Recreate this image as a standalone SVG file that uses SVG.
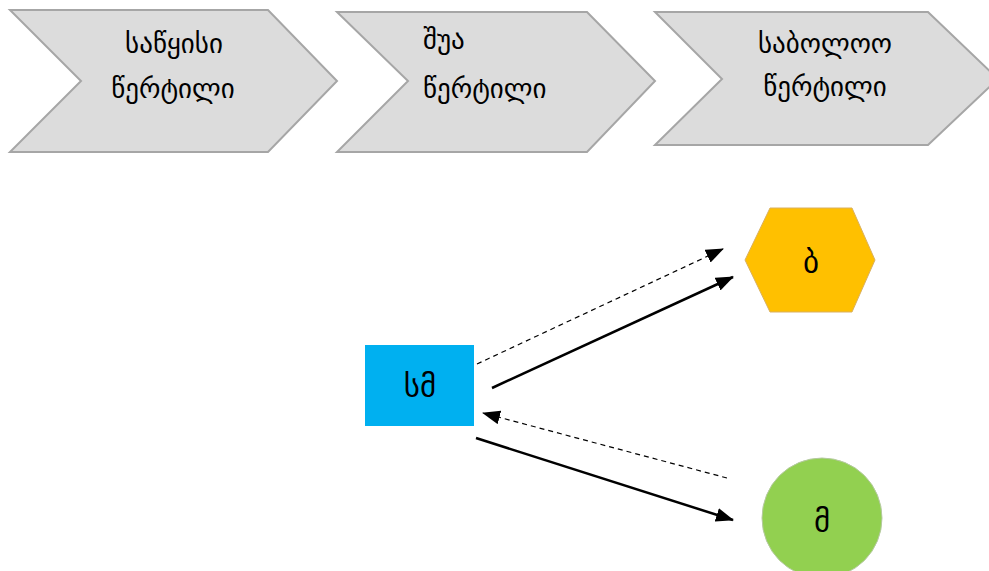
<svg xmlns="http://www.w3.org/2000/svg" width="989" height="571" viewBox="0 0 989 571">
<defs>
<style>
.chev{fill:#DCDCDC;stroke:#A6A6A6;stroke-width:2}
.t{font-family:"DejaVu Sans",sans-serif;font-size:27px;fill:#000}
.n{font-family:"DejaVu Sans",sans-serif;font-size:31px;fill:#000;text-anchor:middle;dominant-baseline:central}
.solid{stroke:#000;stroke-width:2.5;fill:none}
.dash{stroke:#000;stroke-width:1.2;stroke-dasharray:5 4;fill:none}
</style>
<marker id="ah" markerUnits="userSpaceOnUse" markerWidth="18" markerHeight="14" viewBox="0 0 18 14" refX="17" refY="7" orient="auto">
<path d="M0,0 L18,7 L0,14 Z" fill="#000"/>
</marker>
</defs>
<g id="chevron1">
<polygon class="chev" points="10,10 268,10 337,81 268,152 10,152 81,81"/>
<text class="t" x="174" y="53" text-anchor="middle">საწყისი</text>
<text class="t" x="173" y="98" text-anchor="middle">წერტილი</text>
</g>
<g id="chevron2">
<polygon class="chev" points="337,12 587,12 655,81 587,152 337,152 408,81"/>
<text class="t" x="423" y="49">შუა</text>
<text class="t" x="423" y="98">წერტილი</text>
</g>
<g id="chevron3">
<polygon class="chev" points="655,12 928,12 998,79 928,145 655,145 722,79"/>
<text class="t" x="825" y="53" text-anchor="middle">საბოლოო</text>
<text class="t" x="825" y="96" text-anchor="middle">წერტილი</text>
</g>
<g id="node-sm">
<rect x="365" y="345" width="109" height="81" fill="#00B0F0"/>
<text class="n" x="420" y="386">სმ</text>
</g>
<g id="node-b">
<polygon points="745,260 770,208 852,208 875,260 852,312 770,312" fill="#FFC000" stroke="#D9B060" stroke-width="1"/>
<text class="n" x="811" y="262">ბ</text>
</g>
<g id="node-m">
<circle cx="822" cy="518" r="60" fill="#92D050" stroke="#B5C9A0" stroke-width="1"/>
<text class="n" x="822" y="521">მ</text>
</g>
<g id="connectors">
<line class="dash" x1="477" y1="364" x2="723" y2="249" marker-end="url(#ah)"/>
<line class="solid" x1="492" y1="388" x2="733" y2="277" marker-end="url(#ah)"/>
<line class="dash" x1="727" y1="478" x2="483" y2="413" marker-end="url(#ah)"/>
<line class="solid" x1="476" y1="438" x2="733" y2="520" marker-end="url(#ah)"/>
</g>
</svg>
